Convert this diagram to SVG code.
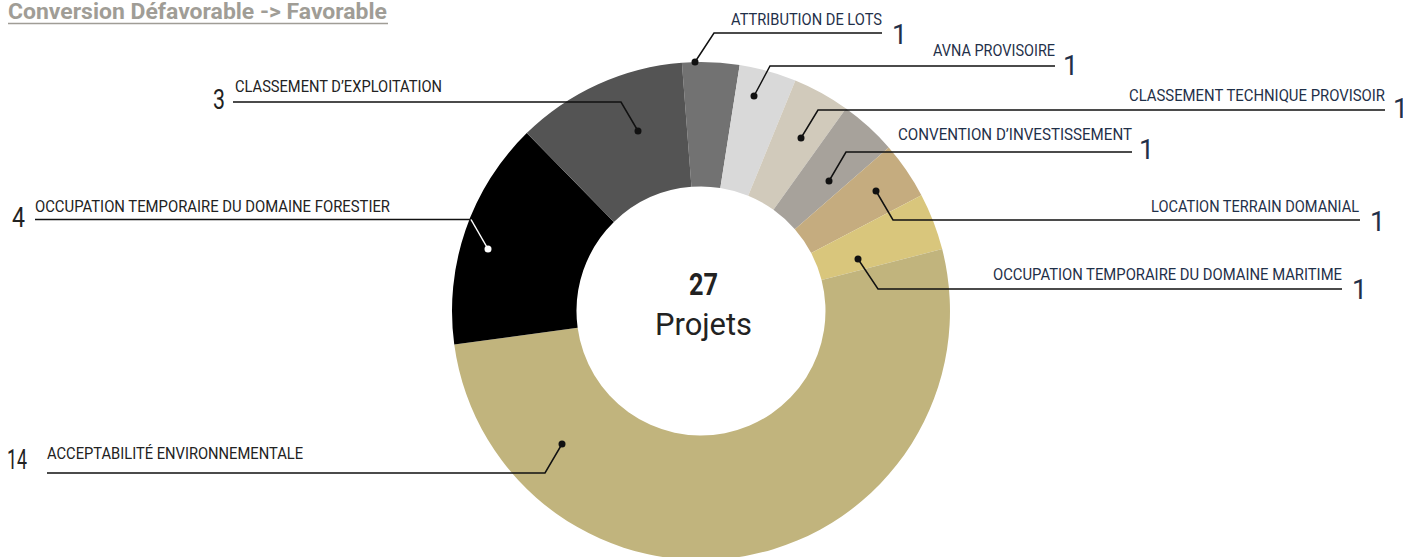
<svg xmlns="http://www.w3.org/2000/svg" width="1403" height="557" viewBox="0 0 1403 557">
<style>
.lbl{font-family:Roboto,"Liberation Sans",sans-serif;font-size:16px;fill:#1f3049}
.lbl.l{fill:#222}
.num{font-family:Roboto,"Liberation Sans",sans-serif;font-size:27px;fill:#1f3049}
.num.l{fill:#222}
.ln{fill:none;stroke:#111;stroke-width:1.5}
.dot{fill:#111}
</style>
<rect width="1403" height="557" fill="#fff"/>
<g id="title">
<text x="8" y="19" font-family="Roboto,'Liberation Sans',sans-serif" font-size="22" font-weight="bold" fill="#a09d96" textLength="379" lengthAdjust="spacingAndGlyphs">Conversion Défavorable -&gt; Favorable</text>
<line x1="8" y1="23.5" x2="388" y2="23.5" stroke="#a09d96" stroke-width="1.5"/>
</g>
<g id="donut">
<path id="s-attribution" fill="#727272" d="M681.90,62.73 A249,249 0 0 1 739.67,65.02 L720.33,188.01 A124.5,124.5 0 0 0 691.45,186.87 Z"/>
<path id="s-avna" fill="#d9d9d9" d="M739.67,65.02 A249,249 0 0 1 795.36,80.57 L748.18,195.79 A124.5,124.5 0 0 0 720.33,188.01 Z"/>
<path id="s-ctp" fill="#d1cabb" d="M795.36,80.57 A249,249 0 0 1 845.95,108.54 L773.47,209.77 A124.5,124.5 0 0 0 748.18,195.79 Z"/>
<path id="s-convention" fill="#a7a29b" d="M845.95,108.54 A249,249 0 0 1 888.75,147.44 L794.87,229.22 A124.5,124.5 0 0 0 773.47,209.77 Z"/>
<path id="s-location" fill="#c5ac7f" d="M888.75,147.44 A249,249 0 0 1 921.40,195.13 L811.20,253.06 A124.5,124.5 0 0 0 794.87,229.22 Z"/>
<path id="s-maritime" fill="#d9c67c" d="M921.40,195.13 A249,249 0 0 1 942.18,249.08 L821.59,280.04 A124.5,124.5 0 0 0 811.20,253.06 Z"/>
<path id="s-acceptabilite" fill="#c1b47d" d="M942.18,249.08 A249,249 0 1 1 454.26,344.50 L577.63,327.75 A124.5,124.5 0 1 0 821.59,280.04 Z"/>
<path id="s-forestier" fill="#000000" d="M454.26,344.50 A249,249 0 0 1 526.78,133.10 L613.89,222.05 A124.5,124.5 0 0 0 577.63,327.75 Z"/>
<path id="s-exploitation" fill="#545454" d="M526.78,133.10 A249,249 0 0 1 681.90,62.73 L691.45,186.87 A124.5,124.5 0 0 0 613.89,222.05 Z"/>
</g>
<g id="center">
<text x="703.5" y="295" text-anchor="middle" font-family="Roboto,'Liberation Sans',sans-serif" font-size="32" font-weight="bold" fill="#222" textLength="29" lengthAdjust="spacingAndGlyphs">27</text>
<text x="703.5" y="335" text-anchor="middle" font-family="Roboto,'Liberation Sans',sans-serif" font-size="32" fill="#222" textLength="97" lengthAdjust="spacingAndGlyphs">Projets</text>
</g>
<g id="connectors">
<polyline class="ln" points="695,62 714,33 882,33"/>
<circle class="dot" cx="695" cy="62" r="3.5"/>
<polyline class="ln" points="754,96 770,66 1055,66"/>
<circle class="dot" cx="754" cy="96" r="3.5"/>
<polyline class="ln" points="801,138 818,110 1385,110"/>
<circle class="dot" cx="801" cy="138" r="3.5"/>
<polyline class="ln" points="829,181 846,152 1132,152"/>
<circle class="dot" cx="829" cy="181" r="3.5"/>
<polyline class="ln" points="876,191 893,220 1360,220"/>
<circle class="dot" cx="876" cy="191" r="3.5"/>
<polyline class="ln" points="858,259 878,289 1342,289"/>
<circle class="dot" cx="858" cy="259" r="3.5"/>
<polyline class="ln" points="638,131 621,102 233,102"/>
<circle class="dot" cx="638" cy="131" r="3.5"/>
<line class="ln" x1="35" y1="219.5" x2="471" y2="219.5"/>
<line x1="471" y1="219.5" x2="488" y2="249" stroke="#fff" stroke-width="1.5"/>
<circle cx="488" cy="249" r="3.5" fill="#fff"/>
<polyline class="ln" points="562,444 545,473 47,473"/>
<circle class="dot" cx="562" cy="444" r="3.5"/>
</g>
<g id="n-attribution">
<text class="lbl" x="731" y="25" textLength="151" lengthAdjust="spacingAndGlyphs">ATTRIBUTION DE LOTS</text>
<text class="num" x="892" y="44">1</text>
</g>
<g id="n-avna">
<text class="lbl" x="933" y="56" textLength="122" lengthAdjust="spacingAndGlyphs">AVNA PROVISOIRE</text>
<text class="num" x="1063" y="75">1</text>
</g>
<g id="n-ctp">
<text class="lbl" x="1129" y="101" textLength="256" lengthAdjust="spacingAndGlyphs">CLASSEMENT TECHNIQUE PROVISOIR</text>
<text class="num" x="1393" y="118">1</text>
</g>
<g id="n-convention">
<text class="lbl" x="898" y="140" textLength="234" lengthAdjust="spacingAndGlyphs">CONVENTION D’INVESTISSEMENT</text>
<text class="num" x="1139" y="159">1</text>
</g>
<g id="n-location">
<text class="lbl" x="1151" y="212" textLength="208" lengthAdjust="spacingAndGlyphs">LOCATION TERRAIN DOMANIAL</text>
<text class="num" x="1370" y="231">1</text>
</g>
<g id="n-maritime">
<text class="lbl" x="993" y="280" textLength="349" lengthAdjust="spacingAndGlyphs">OCCUPATION TEMPORAIRE DU DOMAINE MARITIME</text>
<text class="num" x="1352" y="299">1</text>
</g>
<g id="n-exploitation">
<text class="lbl l" x="235" y="92" textLength="207" lengthAdjust="spacingAndGlyphs">CLASSEMENT D’EXPLOITATION</text>
<text class="num l" x="213" y="109" textLength="12" lengthAdjust="spacingAndGlyphs">3</text>
</g>
<g id="n-forestier">
<text class="lbl l" x="35" y="212" textLength="355" lengthAdjust="spacingAndGlyphs">OCCUPATION TEMPORAIRE DU DOMAINE FORESTIER</text>
<text class="num l" x="12" y="227" textLength="13" lengthAdjust="spacingAndGlyphs">4</text>
</g>
<g id="n-acceptabilite">
<text class="lbl l" x="47" y="459" textLength="256" lengthAdjust="spacingAndGlyphs">ACCEPTABILITÉ ENVIRONNEMENTALE</text>
<text class="num l" x="7" y="469" textLength="20" lengthAdjust="spacingAndGlyphs">14</text>
</g>
</svg>
